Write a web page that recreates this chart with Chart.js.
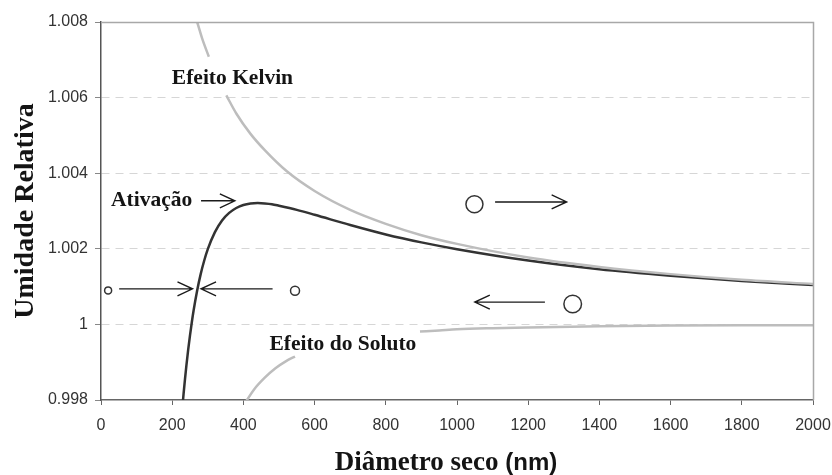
<!DOCTYPE html>
<html><head><meta charset="utf-8">
<script src="https://cdn.jsdelivr.net/npm/chart.js@4.4.1/dist/chart.umd.min.js"></script>
<style>html,body{margin:0;padding:0;background:#fff;}#wrap{width:832px;height:475px;}</style>
</head><body><div id="wrap"><canvas id="c" width="832" height="475"></canvas></div>
<script>
// ---- data ----
const xTickValues = [0, 200, 400, 600, 800, 1000, 1200, 1400, 1600, 1800, 2000];
const xTickLabels = ['0', '200', '400', '600', '800', '1000', '1200', '1400', '1600', '1800', '2000'];
const yTickValues = [0.998, 1, 1.002, 1.004, 1.006, 1.008];
const yTickLabels = ['0.998', '1', '1.002', '1.004', '1.006', '1.008'];

// Activation (Köhler) curve – dark line
const kohlerX = [228, 232, 236, 240, 245, 250, 255, 260, 270, 280, 290, 300, 320, 340, 360, 380, 400, 420, 440, 460, 480, 500, 550, 600, 700, 800, 900, 1000, 1200, 1400, 1600, 1800, 2000];
const kohlerY = [0.99774, 0.99817, 0.99856, 0.99892, 0.99934, 0.99971, 1.00005, 1.00036, 1.00089, 1.00133, 1.00169, 1.00199, 1.00244, 1.00275, 1.00295, 1.00308, 1.00316, 1.00320, 1.00321, 1.00320, 1.00318, 1.00314, 1.00303, 1.00290, 1.00263, 1.00238, 1.00217, 1.00199, 1.00169, 1.00146, 1.00129, 1.00115, 1.00104];

// Kelvin effect – light grey line (gap where the label sits)
const kelvinX = [262, 270, 285, 303, 325, 352, 380, 420, 460, 522, 600, 700, 800, 900, 1000, 1200, 1400, 1600, 1800, 2000];
const kelvinY = [1.00820, 1.00800, 1.00754, 1.00708, null, 1.00606, 1.00558, 1.00504, 1.00461, 1.00405, 1.00353, 1.00303, 1.00266, 1.00236, 1.00213, 1.00177, 1.00152, 1.00133, 1.00118, 1.00107];

// Solute effect – light grey line (gap where the label sits)
const soluteX = [400, 410, 430, 460, 490, 520, 545, 700, 896, 950, 1000, 1100, 1200, 1400, 1600, 1800, 2000];
const soluteY = [0.99786, 0.99800, 0.99828, 0.99859, 0.99884, 0.99903, 0.99915, null, 0.99981, 0.99984, 0.99987, 0.99990, 0.99992, 0.99995, 0.99997, 0.99998, 0.99998];

// annotations (data units)
const labelTexts = ['Efeito Kelvin', 'Ativação', 'Efeito do Soluto'];
const labelX = [199, 28, 473];
const labelY = [1.00635, 1.00313, 0.99932];

const circleX = [20, 545, 1049, 1325];
const circleY = [1.00090, 1.00089, 1.00318, 1.00054];
const circleR = [3.5, 4.5, 8.5, 8.8];

const arrowFromX = [281, 51, 482, 1107, 1247];
const arrowToX = [376, 257, 281, 1308, 1050];
const arrowY = [1.00327, 1.00094, 1.00094, 1.00324, 1.00059];

const toPts = (xs, ys) => xs.map((x, i) => ({ x: x, y: ys[i] }));

const annotPlugin = {
  id: 'annot',
  afterDraw(chart) {
    const { ctx, chartArea: a, scales: { x, y } } = chart;
    ctx.save();
    // top and right frame
    ctx.strokeStyle = '#a8a8a8';
    ctx.lineWidth = 1.5;
    ctx.beginPath();
    ctx.moveTo(a.left, a.top + 0.5);
    ctx.lineTo(a.right + 0.5, a.top + 0.5);
    ctx.lineTo(a.right + 0.5, a.bottom);
    ctx.stroke();

    // labels
    ctx.fillStyle = '#141414';
    ctx.font = 'bold 21.5px "Liberation Serif", "Times New Roman", serif';
    ctx.textBaseline = 'alphabetic';
    ctx.textAlign = 'left';
    labelTexts.forEach((t, i) => {
      ctx.fillText(t, x.getPixelForValue(labelX[i]), y.getPixelForValue(labelY[i]));
    });

    // circles
    ctx.strokeStyle = '#333';
    ctx.lineWidth = 1.5;
    circleX.forEach((cx, i) => {
      ctx.beginPath();
      ctx.arc(x.getPixelForValue(cx), y.getPixelForValue(circleY[i]), circleR[i], 0, Math.PI * 2);
      ctx.stroke();
    });

    // arrows
    ctx.strokeStyle = '#1a1a1a';
    ctx.lineWidth = 1.4;
    arrowFromX.forEach((fx, i) => {
      const x1 = x.getPixelForValue(fx), x2 = x.getPixelForValue(arrowToX[i]);
      const py = y.getPixelForValue(arrowY[i]);
      const dir = x2 > x1 ? 1 : -1;
      ctx.beginPath();
      ctx.moveTo(x1, py); ctx.lineTo(x2, py);
      ctx.moveTo(x2 - dir * 15, py - 7); ctx.lineTo(x2, py); ctx.lineTo(x2 - dir * 15, py + 7);
      ctx.stroke();
    });

    // axis titles
    ctx.fillStyle = '#141414';
    ctx.save();
    ctx.translate(33, (a.top + a.bottom) / 2);
    ctx.rotate(-Math.PI / 2);
    ctx.textAlign = 'center';
    ctx.font = 'bold 28px "Liberation Serif", "Times New Roman", serif';
    ctx.fillText('Umidade Relativa', 0, 0);
    ctx.restore();

    const t1 = 'Diâmetro seco ', t2 = '(nm)';
    ctx.font = 'bold 27px "Liberation Serif", "Times New Roman", serif';
    const w1 = ctx.measureText(t1).width;
    ctx.font = 'bold 24px "Liberation Sans", Arial, sans-serif';
    const w2 = ctx.measureText(t2).width;
    const cx = (a.left + a.right) / 2 - 11;
    const sx = cx - (w1 + w2) / 2;
    ctx.textAlign = 'left';
    ctx.font = 'bold 27px "Liberation Serif", "Times New Roman", serif';
    ctx.fillText(t1, sx, 470);
    ctx.font = 'bold 24px "Liberation Sans", Arial, sans-serif';
    ctx.fillText(t2, sx + w1, 470);
    ctx.restore();
  }
};

new Chart(document.getElementById('c'), {
  type: 'line',
  data: {
    datasets: [
      { label: 'Kelvin', data: toPts(kelvinX, kelvinY), borderColor: '#bdbdbd', borderWidth: 2.5, pointRadius: 0, cubicInterpolationMode: 'monotone', spanGaps: false },
      { label: 'Soluto', data: toPts(soluteX, soluteY), borderColor: '#bdbdbd', borderWidth: 2.5, pointRadius: 0, cubicInterpolationMode: 'monotone', spanGaps: false },
      { label: 'Köhler', data: toPts(kohlerX, kohlerY), borderColor: '#333333', borderWidth: 2.5, pointRadius: 0, cubicInterpolationMode: 'monotone' }
    ]
  },
  options: {
    responsive: false,
    animation: false,
    devicePixelRatio: 1,
    layout: { padding: { left: 0, right: 19, top: 22, bottom: 0 } },
    plugins: { legend: { display: false }, tooltip: { enabled: false }, title: { display: false } },
    scales: {
      x: {
        type: 'linear', min: 0, max: 2000,
        afterBuildTicks: s => { s.ticks = xTickValues.map(v => ({ value: v })); },
        afterFit: s => { s.height = 75; s.paddingLeft = 0; s.paddingRight = 0; },
        ticks: { callback: (v, i) => xTickLabels[i], font: { family: '"Liberation Sans", Arial, sans-serif', size: 16 }, color: '#333', padding: 11, maxRotation: 0, autoSkip: false },
        grid: { drawOnChartArea: false, drawTicks: true, tickLength: 5, tickColor: '#666', tickWidth: 1 },
        border: { color: '#666', width: 1.5 }
      },
      y: {
        type: 'linear', min: 0.998, max: 1.008,
        afterBuildTicks: s => { s.ticks = yTickValues.map(v => ({ value: v })); },
        afterFit: s => { s.width = 101; s.paddingTop = 0; s.paddingBottom = 0; },
        ticks: { callback: (v, i) => yTickLabels[i], font: { family: '"Liberation Sans", Arial, sans-serif', size: 16 }, color: '#333', padding: 7 },
        grid: {
          color: c => (c.index === 0 || c.index === yTickValues.length - 1) ? 'rgba(0,0,0,0)' : '#d6d6d6',
          lineWidth: 1, tickLength: 6, tickColor: '#888', tickWidth: 1
        },
        border: { color: '#555', width: 1.5, dash: [8, 6] }
      }
    }
  },
  plugins: [annotPlugin]
});
</script></body></html>
